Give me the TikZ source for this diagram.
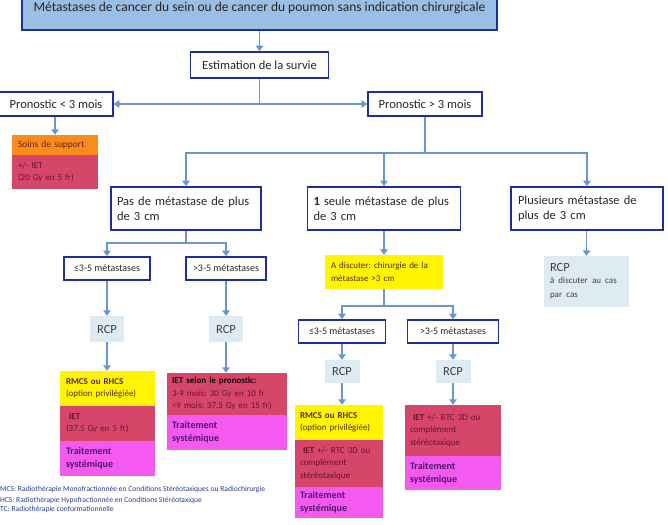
\documentclass[tikz,border=0pt]{standalone}
\usepackage{fontspec}
\setmainfont{Carlito}
\frenchspacing
\usetikzlibrary{arrows.meta}
\definecolor{navy}{RGB}{30,45,160}
\definecolor{arrowblue}{RGB}{105,150,205}
\definecolor{topblue}{RGB}{155,190,228}
\definecolor{rcpblue}{RGB}{222,235,242}
\definecolor{yel}{RGB}{255,245,0}
\definecolor{orng}{RGB}{250,140,30}
\definecolor{redb}{RGB}{214,70,105}
\definecolor{magb}{RGB}{245,90,240}
\definecolor{purp}{RGB}{80,20,110}
\definecolor{redtxt}{RGB}{100,20,50}
\definecolor{yeltxt}{RGB}{100,35,25}
\definecolor{foot}{RGB}{40,60,150}
\begin{document}
\begin{tikzpicture}[x=1pt,y=-1pt,
  bbox/.style={draw=navy, line width=1.6pt, fill=white, inner sep=0pt, text=black!85},
  cbox/.style={inner xsep=6pt, inner ysep=0pt, align=left, font=\fontsize{9}{12.5}\selectfont},
  rcpbox/.style={fill=rcpblue, inner sep=0pt, font=\fontsize{12.5}{14}\selectfont, text=black!75},
  conn/.style={draw=arrowblue, line width=1.8pt, -{Triangle[width=7.5pt,length=5.5pt]}},
  lin/.style={draw=arrowblue, line width=1.8pt}]
\useasboundingbox (0,0) rectangle (668,524);
\clip (0,0) rectangle (668,524);

% top
\node[bbox, fill=topblue, minimum width=475pt, minimum height=54pt] (top) at (259.5,3) {};
\node[inner sep=0pt, font=\fontsize{13.5}{15}\selectfont, text=black!85] (toptxt) at (259.5,8) {Métastases de cancer du sein ou de cancer du poumon sans indication chirurgicale};
\node[bbox, minimum width=138pt, minimum height=26pt, font=\fontsize{12.5}{14}\selectfont] (est) at (259.5,65) {Estimation de la survie};
\draw[conn] (top) -- (est);

\node[bbox, minimum width=114pt, minimum height=24pt, font=\fontsize{12.5}{14}\selectfont] (pm3) at (56,104) {Pronostic < 3 mois};
\node[bbox, minimum width=114pt, minimum height=24pt, font=\fontsize{12.5}{14}\selectfont] (pp3) at (425,104) {Pronostic > 3 mois};
\draw[conn] (est.south) |- (pm3.east);
\draw[conn] (est.south) |- (pp3.west);

% short prognosis
\node[cbox, fill=orng, minimum width=86pt, minimum height=20pt, text width=74pt, text=yeltxt, font=\fontsize{9.5}{12.5}\selectfont] (soins) at (55,145) {Soins de support};
\node[cbox, fill=redb, minimum width=86pt, minimum height=34pt, text width=74pt, text=redtxt] (iet0) at (55,172) {+/- IET\\(20 Gy en 5 fr)};
\draw[conn] (pm3.south -| soins.north) -- (soins.north);

% second level
\node[bbox, minimum width=150pt, minimum height=43pt, text width=138pt, align=left, font=\fontsize{12.5}{15}\selectfont] (pas) at (186,208.5) {Pas de métastase de plus\\de 3 cm};
\node[bbox, minimum width=153pt, minimum height=43pt, text width=141pt, align=left, font=\fontsize{12.5}{15}\selectfont] (seule) at (384,208.5) {{\bfseries 1} seule métastase de plus\\de 3 cm};
\node[bbox, minimum width=152pt, minimum height=43pt, text width=138pt, align=left, font=\fontsize{12.5}{15}\selectfont] (plus) at (587,208.5) {Plusieurs métastase de\\plus de 3 cm};
\coordinate (j2) at (425,153);
\draw[lin] (pp3.south) -- (j2);
\draw[conn] (j2) -| (pas.north);
\draw[conn] (j2) -| (plus.north);
\draw[conn] (seule.north |- j2) -- (seule.north);

% plusieurs
\node[rcpbox, minimum width=85pt, minimum height=51pt, text width=73pt, align=left] (rcpP) at (586.5,281.5) {RCP\\[-1pt]{\fontsize{9}{13}\selectfont à discuter au cas\\par cas}};
\draw[conn] (plus.south -| rcpP.north) -- (rcpP.north);

% pas de metastase branch
\node[bbox, minimum width=86pt, minimum height=23pt, font=\fontsize{10}{12}\selectfont] (le1) at (107,268.5) {≤3-5 métastases};
\node[bbox, minimum width=80pt, minimum height=23pt, font=\fontsize{10}{12}\selectfont] (gt1) at (226,268.5) {>3-5 métastases};
\coordinate (j5) at (186,243);
\draw[conn] (pas.south) -- (j5) -| (le1.north);
\draw[conn] (j5) -| (gt1.north);
\node[rcpbox, minimum width=34pt, minimum height=26pt] (rcp1) at (107,329) {RCP};
\node[rcpbox, minimum width=34pt, minimum height=26pt] (rcp2) at (226,329) {RCP};
\draw[conn] (le1) -- (rcp1);
\draw[conn] (gt1) -- (rcp2);

\node[cbox, fill=yel, minimum width=95pt, minimum height=35pt, text width=83pt, text=yeltxt] (y1) at (107.5,388.5) {{\bfseries RMCS ou RHCS}\\(option privilégiée)};
\node[cbox, fill=redb, minimum width=95pt, minimum height=35pt, text width=83pt, text=redtxt] (r1) at (107.5,423.5) {\hspace{3pt}{\bfseries IET}\\(37.5 Gy en 5 fr)};
\node[cbox, fill=magb, minimum width=95pt, minimum height=35pt, text width=83pt, text=purp, font=\fontsize{10}{13}\selectfont\bfseries] (m1) at (107.5,458.5) {Traitement\\systémique};
\draw[conn] (rcp1.south) -- (rcp1.south |- y1.north);

\node[cbox, fill=redb, minimum width=120pt, minimum height=42pt, text width=110pt, inner xsep=5pt, text=redtxt] (r2) at (227,394) {{\bfseries\color{black!80!redtxt}IET selon le pronostic:}\\3-9 mois: 30 Gy en 10 fr\\<9 mois: 37.5 Gy en 15 fr)};
\node[cbox, fill=magb, minimum width=120pt, minimum height=35pt, text width=110pt, inner xsep=5pt, text=purp, font=\fontsize{10}{13}\selectfont\bfseries] (m2) at (227,432.5) {Traitement\\systémique};
\draw[conn] (rcp2.south) -- (rcp2.south |- r2.north);

% 1 seule branch
\node[cbox, fill=yel, minimum width=118pt, minimum height=34pt, text width=106pt, text=yeltxt] (y3) at (384,272) {A discuter: chirurgie de la\\métastase >3 cm};
\draw[conn] (seule) -- (y3);
\node[bbox, minimum width=87pt, minimum height=23pt, font=\fontsize{10}{12}\selectfont] (le2) at (342,331.5) {≤3-5 métastases};
\node[bbox, minimum width=91pt, minimum height=23pt, font=\fontsize{10}{12}\selectfont] (gt2) at (453,331.5) {>3-5 métastases};
\coordinate (j6) at (384,306);
\draw[conn] (y3.south) -- (j6) -| (le2.north);
\draw[conn] (j6) -| (gt2.north);
\node[rcpbox, minimum width=35pt, minimum height=23pt] (rcp3) at (342,371.5) {RCP};
\node[rcpbox, minimum width=35pt, minimum height=23pt] (rcp4) at (453,371.5) {RCP};
\draw[conn] (le2) -- (rcp3);
\draw[conn] (gt2) -- (rcp4);

\node[cbox, fill=yel, minimum width=88pt, minimum height=35pt, text width=78pt, inner xsep=5pt, text=yeltxt] (y4) at (339,422.5) {{\bfseries RMCS ou RHCS}\\(option privilégiée)};
\node[cbox, fill=redb, minimum width=88pt, minimum height=47pt, text width=78pt, inner xsep=5pt, text=redtxt] (r4) at (339,463.5) {\hspace{3pt}{\bfseries IET} +/- RTC 3D ou\\complément\\stéréotaxique};
\node[cbox, fill=magb, minimum width=88pt, minimum height=31pt, text width=78pt, inner xsep=5pt, text=purp, font=\fontsize{10}{13}\selectfont\bfseries] (m4) at (339,502.5) {Traitement\\systémique};
\draw[conn] (rcp3.south) -- (rcp3.south |- y4.north);

\node[cbox, fill=redb, minimum width=96pt, minimum height=51pt, text width=86pt, inner xsep=5pt, text=redtxt] (r5) at (453,430.5) {\hspace{3pt}{\bfseries IET} +/- RTC 3D ou\\complément\\stéréotaxique};
\node[cbox, fill=magb, minimum width=96pt, minimum height=34pt, text width=86pt, inner xsep=5pt, text=purp, font=\fontsize{10}{13}\selectfont\bfseries] (m5) at (453,473) {Traitement\\systémique};
\draw[conn] (rcp4.south) -- (rcp4.south |- r5.north);

% footnotes
\node[anchor=west, inner sep=0pt, text=foot, font=\fontsize{7.6}{9}\selectfont] (f1) at (0,490) {MCS: Radiothérapie Monofractionnée en Conditions Stéréotaxiques ou Radiochirurgie};
\node[anchor=west, inner sep=0pt, text=foot, font=\fontsize{7.6}{9}\selectfont] (f2) at (0,500) {HCS: Radiothérapie Hypofractionnée en Conditions Stéréotaxique};
\node[anchor=west, inner sep=0pt, text=foot, font=\fontsize{7.6}{9}\selectfont] (f3) at (0,509.5) {TC: Radiothérapie conformationnelle};
\end{tikzpicture}
\end{document}
